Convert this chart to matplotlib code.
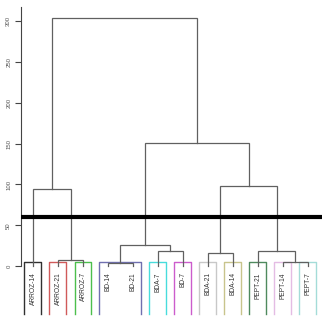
import matplotlib
matplotlib.use("Agg")
import matplotlib.pyplot as plt

# leaf labels, in dendrogram order
LEAVES = ["ARROZ-14", "ARROZ-21", "ARROZ-7", "BD-14", "BD-21", "BDA-7",
          "BD-7", "BDA-21", "BDA-14", "PEPT-21", "PEPT-14", "PEPT-7"]

# merges, R hclust style: negative = leaf (1-based), positive = earlier merge
MERGE_LEFT = [-4, -11, -2, -8, -6, -10, 1, -1, 4, 7, 8]
MERGE_RIGHT = [-5, -12, -3, -9, -7, 2, 5, 3, 6, 9, 10]
HEIGHTS = [4.0, 5.3, 7.3, 15.5, 18.4, 18.4, 25.3, 94.0, 98.0, 151.0, 304.5]

CUT_HEIGHT = 60

# rect.hclust groups (first leaf, last leaf) and their border colours
GROUP_START = [1, 2, 3, 4, 6, 7, 8, 9, 10, 11, 12]
GROUP_END = [1, 2, 3, 5, 6, 7, 8, 9, 10, 11, 12]
GROUP_COLORS = ["#303030", "#d05a5a", "#4cbf4c", "#7070b0", "#48dcdc", "#cc5ccc",
                "#c8c8c8", "#c8c48c", "#4f8a5e", "#e4bce4", "#a4dcd8"]

Y_TICKS = [0, 50, 100, 150, 200, 250, 300]

LINE_COLOR = "#606060"

fig = plt.figure(figsize=(3.31, 3.18), dpi=100)
ax = fig.add_axes([21 / 331, 0, 301 / 331, 311 / 318])

# node positions: x = mid of children, y = height (leaves at 0)
pos = {}
for i in range(len(LEAVES)):
    pos[-(i + 1)] = (i + 1, 0.0)

for k, (l, r, h) in enumerate(zip(MERGE_LEFT, MERGE_RIGHT, HEIGHTS)):
    xl, yl = pos[l]
    xr, yr = pos[r]
    ax.plot([xl, xl, xr, xr], [yl, h, h, yr], color=LINE_COLOR, lw=0.9,
            solid_joinstyle="miter", zorder=2)
    pos[k + 1] = ((xl + xr) / 2, h)

# leaf labels
for i, lab in enumerate(LEAVES):
    ax.text(i + 1, -7.5, lab, rotation=90, ha="center", va="top",
            fontsize=4.8, color="#333333", family="Liberation Sans")

# cluster rectangles (k = 11), open at the bottom
k = len(GROUP_START)
rect_top = (sorted(HEIGHTS)[-(k - 1)] + sorted(HEIGHTS)[-k]) / 2
rect_bottom = -58.5
for s, e, c in zip(GROUP_START, GROUP_END, GROUP_COLORS):
    x0 = s - 0.34
    x1 = e + 0.33
    ax.plot([x0, x0, x1, x1], [rect_bottom, rect_top, rect_top, rect_bottom],
            color=c, lw=1.0, zorder=1, clip_on=False)

# cut line
ax.axhline(CUT_HEIGHT, color="black", lw=3, zorder=3)

ax.set_xlim(0.52, 12.56)
ax.set_ylim(-63.7, 317.5)

for side in ["top", "right", "bottom"]:
    ax.spines[side].set_visible(False)
ax.spines["left"].set_bounds(0, 317.5)
ax.spines["left"].set_color("#444444")
ax.spines["left"].set_linewidth(0.8)
ax.set_xticks([])
ax.set_yticks(Y_TICKS)
ax.set_yticklabels([str(t) for t in Y_TICKS], rotation=90, va="center",
                   fontsize=4.3, color="#555555", family="Liberation Sans")
ax.tick_params(axis="y", length=4, width=0.8, color="#444444", pad=3)
ax.patch.set_alpha(0)

fig.savefig("out.png", dpi=100)
